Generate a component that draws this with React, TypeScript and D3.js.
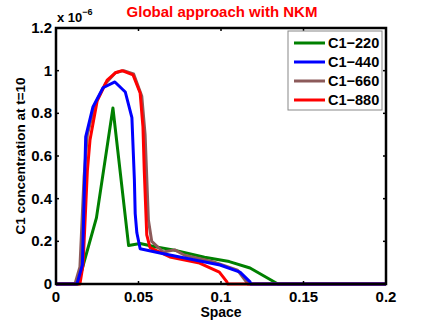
import React, { useRef, useEffect } from "react";
import * as d3 from "d3";

// x, y (in units of 1e-6) pairs
const c1_220: [number, number][] = [
  [0, 0], [0.0133, 0], [0.0245, 0.31], [0.0345, 0.825], [0.044, 0.18],
  [0.051, 0.19], [0.06, 0.175], [0.071, 0.16], [0.09, 0.125], [0.105, 0.105],
  [0.1176, 0.075], [0.1345, 0], [0.2, 0],
];
const c1_440: [number, number][] = [
  [0, 0], [0.0127, 0], [0.016, 0.09], [0.018, 0.69], [0.0224, 0.83],
  [0.0285, 0.92], [0.0357, 0.947], [0.042, 0.9], [0.046, 0.78], [0.0475, 0.49],
  [0.048, 0.33], [0.049, 0.24], [0.051, 0.165], [0.063, 0.145], [0.075, 0.127],
  [0.0994, 0.089], [0.1115, 0.056], [0.1176, 0.01], [0.118, 0], [0.2, 0],
];
const c1_660: [number, number][] = [
  [0, 0], [0.0115, 0], [0.0145, 0.08], [0.017, 0.5], [0.019, 0.7],
  [0.0235, 0.84], [0.03, 0.94], [0.036, 0.99], [0.041, 1.0], [0.047, 0.985],
  [0.052, 0.88], [0.054, 0.7], [0.056, 0.3], [0.058, 0.2], [0.065, 0.15],
  [0.072, 0.16], [0.078, 0.135], [0.095, 0.105], [0.11, 0.065], [0.1164, 0],
  [0.2, 0],
];
const c1_880: [number, number][] = [
  [0, 0], [0.0145, 0], [0.0164, 0.09], [0.019, 0.53], [0.0206, 0.675],
  [0.025, 0.86], [0.031, 0.956], [0.036, 0.99], [0.04, 1.0], [0.0467, 0.98],
  [0.051, 0.895], [0.0527, 0.736], [0.0535, 0.53], [0.055, 0.23], [0.057, 0.17],
  [0.069, 0.127], [0.087, 0.098], [0.099, 0.056], [0.1036, 0.01], [0.104, 0],
  [0.2, 0],
];

const seriesNames = ["C1\u2212220", "C1\u2212440", "C1\u2212660", "C1\u2212880"];
const seriesColors = ["#008000", "#0000ff", "#8c5a5a", "#ff0000"];
const xTicks = [0, 0.05, 0.1, 0.15, 0.2];
const yTicks = [0, 0.2, 0.4, 0.6, 0.8, 1, 1.2];

const App = () => {
  const svgRef = useRef<SVGSVGElement>(null);

  useEffect(() => {
    const svg = d3.select(svgRef.current);
    svg.selectAll("*").remove();

    const width = 427;
    const height = 321;
    const margin = { top: 28, right: 41, bottom: 37, left: 56 };
    const font = "'Liberation Sans', Arial, Helvetica, sans-serif";

    const x = d3.scaleLinear().domain([0, 0.2]).range([margin.left, width - margin.right]);
    const y = d3.scaleLinear().domain([0, 1.2]).range([height - margin.bottom, margin.top]);

    const line = d3
      .line<[number, number]>()
      .x((d) => x(d[0]))
      .y((d) => y(d[1]));

    // draw order: green, brown, red, blue on top
    const data = [c1_220, c1_440, c1_660, c1_880];
    [0, 2, 3, 1].forEach((i) => {
      svg
        .append("path")
        .datum(data[i])
        .attr("fill", "none")
        .attr("stroke", seriesColors[i])
        .attr("stroke-width", 3)
        .attr("stroke-linejoin", "round")
        .attr("d", line);
    });

    // Box
    svg
      .append("rect")
      .attr("x", x(0))
      .attr("y", y(1.2))
      .attr("width", x(0.2) - x(0))
      .attr("height", y(0) - y(1.2))
      .attr("fill", "none")
      .attr("stroke", "black")
      .attr("stroke-width", 2.5);

    // Ticks (inside, on all four sides)
    const tl = 3;
    xTicks.forEach((t) => {
      svg.append("line").attr("x1", x(t)).attr("x2", x(t)).attr("y1", y(0)).attr("y2", y(0) - tl).attr("stroke", "black").attr("stroke-width", 1.5);
      svg.append("line").attr("x1", x(t)).attr("x2", x(t)).attr("y1", y(1.2)).attr("y2", y(1.2) + tl).attr("stroke", "black").attr("stroke-width", 1.5);
      svg
        .append("text")
        .attr("x", x(t))
        .attr("y", y(0) + 18)
        .style("text-anchor", "middle")
        .style("font-family", font)
        .style("font-weight", "bold")
        .style("font-size", "15px")
        .text(String(t));
    });
    yTicks.forEach((t) => {
      svg.append("line").attr("x1", x(0)).attr("x2", x(0) + tl).attr("y1", y(t)).attr("y2", y(t)).attr("stroke", "black").attr("stroke-width", 1.5);
      svg.append("line").attr("x1", x(0.2)).attr("x2", x(0.2) - tl).attr("y1", y(t)).attr("y2", y(t)).attr("stroke", "black").attr("stroke-width", 1.5);
      svg
        .append("text")
        .attr("x", x(0) - 4)
        .attr("y", y(t) + 5)
        .style("text-anchor", "end")
        .style("font-family", font)
        .style("font-weight", "bold")
        .style("font-size", "15px")
        .text(String(t));
    });

    // Exponent label
    const expo = svg
      .append("text")
      .attr("x", x(0) + 1)
      .attr("y", 22)
      .style("font-family", font)
      .style("font-weight", "bold")
      .style("font-size", "13px");
    expo.append("tspan").text("x 10");
    expo.append("tspan").attr("dy", -7).style("font-size", "9px").text("\u22126");

    // Title
    svg
      .append("text")
      .attr("x", 222)
      .attr("y", 17)
      .style("text-anchor", "middle")
      .style("font-family", font)
      .style("font-weight", "bold")
      .style("font-size", "15px")
      .style("fill", "#ff0000")
      .text("Global approach with NKM");

    // Axis labels
    svg
      .append("text")
      .attr("x", (x(0) + x(0.2)) / 2)
      .attr("y", 317)
      .style("text-anchor", "middle")
      .style("font-family", font)
      .style("font-weight", "bold")
      .style("font-size", "14px")
      .text("Space");

    svg
      .append("text")
      .attr("transform", `translate(25,${(y(0) + y(1.2)) / 2}) rotate(-90)`)
      .style("text-anchor", "middle")
      .style("font-family", font)
      .style("font-weight", "bold")
      .style("font-size", "13.5px")
      .text("C1 concentration at t=10");

    // Legend
    const lg = svg.append("g").attr("transform", "translate(288,31)");
    lg.append("rect")
      .attr("width", 94)
      .attr("height", 79)
      .attr("fill", "white")
      .attr("stroke", "#888")
      .attr("stroke-width", 1);
    seriesNames.forEach((name, i) => {
      const ly = 12 + i * 19;
      lg.append("line")
        .attr("x1", 6)
        .attr("x2", 37)
        .attr("y1", ly)
        .attr("y2", ly)
        .attr("stroke", seriesColors[i])
        .attr("stroke-width", 3);
      lg.append("text")
        .attr("x", 40)
        .attr("y", ly + 5)
        .style("font-family", font)
        .style("font-weight", "bold")
        .style("font-size", "14.5px")
        .text(name);
    });
  }, []);

  return (
    <svg
      ref={svgRef}
      width={427}
      height={321}
      style={{ position: "absolute", left: 0, top: 0, background: "white" }}
    ></svg>
  );
};

export default App;
